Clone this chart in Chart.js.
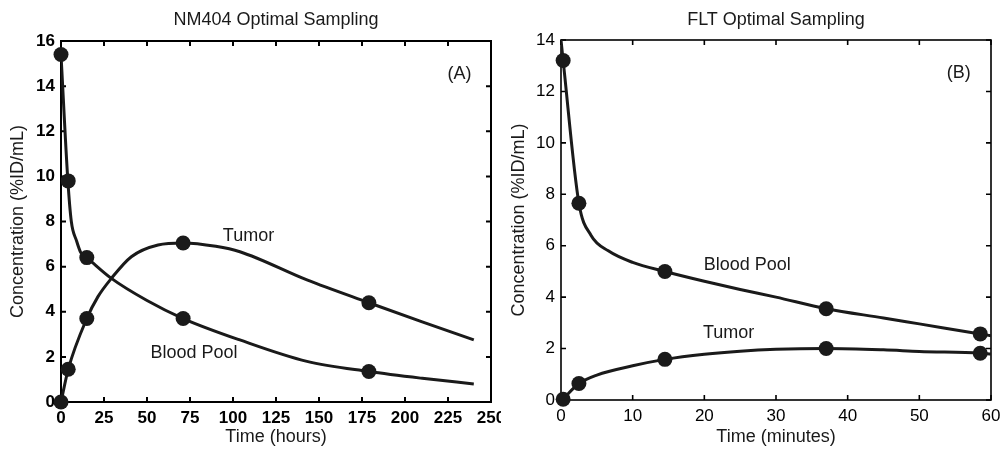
<!DOCTYPE html>
<html lang="en">
<head>
<meta charset="UTF-8" />
<title>Optimal Sampling</title>
<script src="https://cdn.jsdelivr.net/npm/chart.js"></script>
<style>
  body { margin: 0; background: #fff; }
  .panel { position: absolute; top: 0; width: 501px; height: 452px; }
  #panelA { left: 0; }
  #panelB { left: 501px; }
</style>
</head>
<body>
<div class="panel" id="panelA"><canvas id="chartA"></canvas></div>
<div class="panel" id="panelB"><canvas id="chartB"></canvas></div>
<script>
// Panel A: NM404, time in hours
const hoursBlood = [0, 4, 6, 9, 11.5, 15, 29.3, 50, 71, 104, 143, 179, 210, 240];
const bloodCurveA = [15.4, 9.8, 8.0, 7.15, 6.62, 6.4, 5.48, 4.5, 3.7, 2.75, 1.8, 1.35, 1.05, 0.8];
const hoursTumor = [0, 4.2, 15, 21.5, 29.3, 40.9, 56.4, 71, 90, 104, 143, 179, 210, 240];
const tumorCurveA = [0, 1.45, 3.7, 4.67, 5.48, 6.44, 6.96, 7.05, 6.9, 6.66, 5.41, 4.4, 3.55, 2.75];
const sampleHours = [0, 4.2, 15, 71, 179];
const bloodSamplesA = [15.4, 9.8, 6.4, 3.7, 1.35];
const tumorSamplesA = [0, 1.45, 3.7, 7.05, 4.4];

// Panel B: FLT, time in minutes
const minutesBlood = [0, 0.3, 2.5, 4.2, 6.6, 10, 14.5, 20, 25, 30, 37, 45, 50, 58.5, 60];
const bloodCurveB = [14, 13.2, 7.65, 6.4, 5.8, 5.35, 5.0, 4.62, 4.3, 4.0, 3.55, 3.19, 2.96, 2.57, 2.5];
const minutesTumor = [0.25, 2.5, 5, 10, 14.5, 20, 25, 30, 37, 45, 50, 58.5, 60];
const tumorCurveB = [0.03, 0.64, 0.97, 1.33, 1.58, 1.78, 1.9, 1.97, 2.0, 1.95, 1.89, 1.82, 1.79];
const sampleMinutes = [0.3, 2.5, 14.5, 37, 58.5];
const bloodSamplesB = [13.2, 7.65, 5.0, 3.55, 2.57];
const tumorSamplesB = [0.03, 0.64, 1.58, 2.0, 1.82];

const FONT = "'Liberation Sans', Arial, Helvetica, sans-serif";
const INK = "#1a1a1a";

const toXY = (xs, ys) => xs.map((x, i) => ({ x: x, y: ys[i] }));

// box around the plot with inward ticks on all four sides, plus text notes
const framePlugin = {
  id: "frame",
  beforeDatasetsDraw(chart, args, opts) {
    const { ctx, chartArea: a, scales } = chart;
    ctx.save();
    ctx.strokeStyle = "#000";
    ctx.lineWidth = opts.lineWidth;
    ctx.strokeRect(a.left, a.top, a.right - a.left, a.bottom - a.top);
    ctx.beginPath();
    scales.x.ticks.forEach((t) => {
      const px = scales.x.getPixelForValue(t.value);
      ctx.moveTo(px, a.bottom);
      ctx.lineTo(px, a.bottom - 5);
      ctx.moveTo(px, a.top);
      ctx.lineTo(px, a.top + 5);
    });
    scales.y.ticks.forEach((t) => {
      const py = scales.y.getPixelForValue(t.value);
      ctx.moveTo(a.left, py);
      ctx.lineTo(a.left + 5, py);
      ctx.moveTo(a.right, py);
      ctx.lineTo(a.right - 5, py);
    });
    ctx.stroke();
    ctx.restore();
  },
  afterDraw(chart, args, opts) {
    const { ctx, scales } = chart;
    ctx.save();
    ctx.font = "18px " + FONT;
    ctx.fillStyle = INK;
    ctx.textAlign = "center";
    ctx.textBaseline = "middle";
    opts.notes.forEach((n) => {
      ctx.fillText(n.text, scales.x.getPixelForValue(n.x), scales.y.getPixelForValue(n.y));
    });
    ctx.restore();
  },
};

function makeChart(id, p) {
  const curve = (data) => ({
    data: data,
    borderColor: INK,
    borderWidth: 3,
    pointRadius: 0,
    cubicInterpolationMode: "monotone",
    fill: false,
  });
  const dots = (data) => ({
    data: data,
    showLine: false,
    pointRadius: 7.5,
    pointBackgroundColor: INK,
    pointBorderWidth: 0,
    clip: false,
  });
  return new Chart(document.getElementById(id), {
    type: "line",
    data: {
      datasets: [dots(p.bloodDots), dots(p.tumorDots), curve(p.blood), curve(p.tumor)],
    },
    options: {
      responsive: true,
      maintainAspectRatio: false,
      animation: false,
      events: [],
      layout: { padding: { left: 0, right: p.padRight, top: 0, bottom: 0 } },
      plugins: {
        legend: { display: false },
        tooltip: { enabled: false },
        title: {
          display: true,
          text: p.title,
          fullSize: false,
          color: INK,
          font: { family: FONT, size: 18, weight: "normal" },
          padding: { top: 9, bottom: p.titleGap },
        },
        frame: { lineWidth: p.frameWidth, notes: p.notes },
      },
      scales: {
        x: {
          type: "linear",
          min: p.xMin,
          max: p.xMax,
          grid: { display: false, drawTicks: false },
          border: { display: false },
          ticks: {
            stepSize: p.xStep,
            padding: 6,
            maxRotation: 0,
            color: "#000",
            font: { family: FONT, size: 17, weight: p.tickWeight },
          },
          title: {
            display: true,
            text: p.xTitle,
            color: INK,
            font: { family: FONT, size: 18 },
            padding: { top: 0, bottom: 4 },
          },
          afterFit: (s) => {
            s.height = p.xAxisHeight;
            s.paddingLeft = 0;
            s.paddingRight = 0;
          },
        },
        y: {
          min: 0,
          max: p.yMax,
          grid: { display: false, drawTicks: false },
          border: { display: false },
          ticks: {
            stepSize: 2,
            padding: 6,
            color: "#000",
            font: { family: FONT, size: 17, weight: p.tickWeight },
          },
          title: {
            display: true,
            text: "Concentration (%ID/mL)",
            color: INK,
            font: { family: FONT, size: 18 },
            padding: { top: 7, bottom: 0 },
          },
          afterFit: (s) => {
            s.width = p.yAxisWidth;
            s.paddingTop = 0;
            s.paddingBottom = 0;
          },
        },
      },
    },
    plugins: [framePlugin],
  });
}

makeChart("chartA", {
  title: "NM404 Optimal Sampling",
  xTitle: "Time (hours)",
  xMin: 0, xMax: 250, xStep: 25, yMax: 16,
  tickWeight: "bold",
  frameWidth: 2,
  padRight: 10, titleGap: 10.4, xAxisHeight: 50, yAxisWidth: 61,
  blood: toXY(hoursBlood, bloodCurveA),
  tumor: toXY(hoursTumor, tumorCurveA),
  bloodDots: toXY(sampleHours, bloodSamplesA),
  tumorDots: toXY(sampleHours, tumorSamplesA),
  notes: [
    { text: "Tumor", x: 109, y: 7.36 },
    { text: "Blood Pool", x: 77.3, y: 2.17 },
    { text: "(A)", x: 231.7, y: 14.55 },
  ],
});

makeChart("chartB", {
  title: "FLT Optimal Sampling",
  xTitle: "Time (minutes)",
  xMin: 0, xMax: 60, xStep: 10, yMax: 14,
  tickWeight: "normal",
  frameWidth: 1.6,
  padRight: 11, titleGap: 9.4, xAxisHeight: 52, yAxisWidth: 60,
  blood: toXY(minutesBlood, bloodCurveB),
  tumor: toXY(minutesTumor, tumorCurveB),
  bloodDots: toXY(sampleMinutes, bloodSamplesB),
  tumorDots: toXY(sampleMinutes, tumorSamplesB),
  notes: [
    { text: "Blood Pool", x: 26, y: 5.25 },
    { text: "Tumor", x: 23.4, y: 2.6 },
    { text: "(B)", x: 55.5, y: 12.73 },
  ],
});
</script>
</body>
</html>
